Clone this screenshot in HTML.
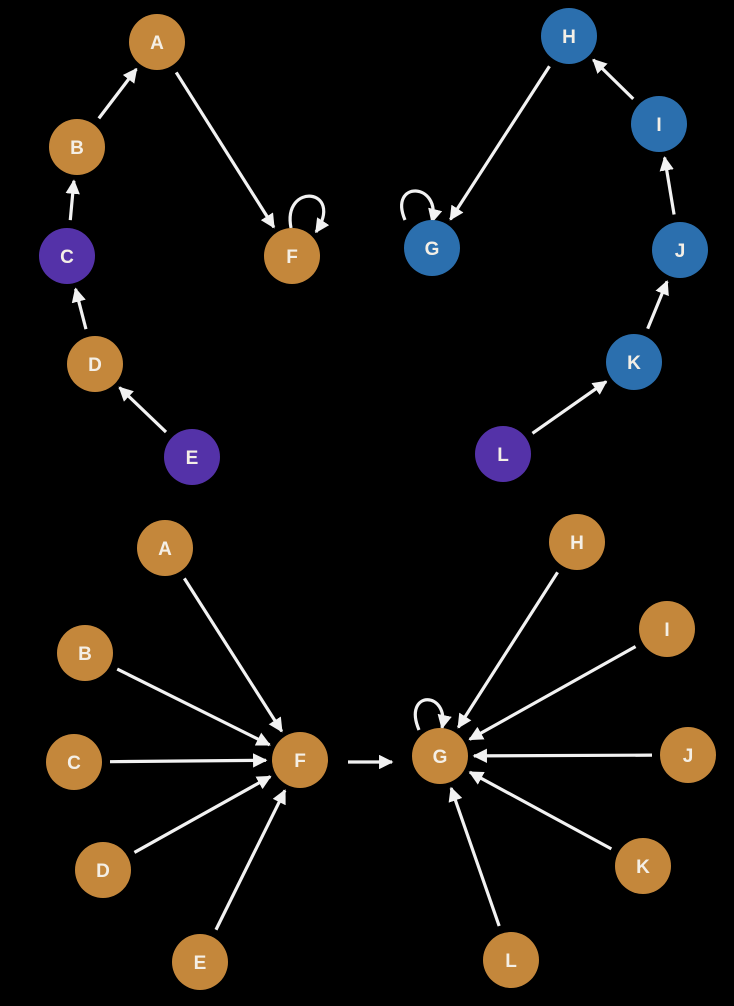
<!DOCTYPE html>
<html><head><style>
html,body{margin:0;padding:0;background:#000;width:734px;height:1006px;overflow:hidden}
svg text{font-family:"Liberation Sans",sans-serif;font-weight:bold;font-size:19px;fill:#f4efe6}
</style></head><body>
<svg id="s" width="734" height="1006" viewBox="0 0 734 1006" xmlns="http://www.w3.org/2000/svg">
<defs><marker id="ah" viewBox="0 0 10 10" refX="9" refY="5" markerWidth="4.5" markerHeight="4.5" orient="auto" markerUnits="strokeWidth"><path d="M0,0 L10,5 L0,10 Z" fill="#f2f2f2"/></marker></defs>
<g id="e" stroke="#f2f2f2" stroke-width="3.2" fill="none"></g>
<g id="n"></g>
</svg>
<script>
var O="#c4873b",P="#5432a8",B="#2b6fae";
var N={
a:[157,42,O,"A"],b:[77,147,O,"B"],c:[67,256,P,"C"],d:[95,364,O,"D"],e:[192,457,P,"E"],f:[292,256,O,"F"],
h:[569,36,B,"H"],i:[659,124,B,"I"],j:[680,250,B,"J"],k:[634,362,B,"K"],l:[503,454,P,"L"],g:[432,248,B,"G"],
A:[165,548,O,"A"],B:[85,653,O,"B"],C:[74,762,O,"C"],D:[103,870,O,"D"],E:[200,962,O,"E"],F:[300,760,O,"F"],
G:[440,756,O,"G"],H:[577,542,O,"H"],I:[667,629,O,"I"],J:[688,755,O,"J"],K:[643,866,O,"K"],L:[511,960,O,"L"]};
var E=[["b","a"],["c","b"],["d","c"],["e","d"],["a","f"],["h","g"],["i","h"],["j","i"],["k","j"],["l","k"],
["A","F"],["B","F"],["C","F"],["D","F"],["E","F"],["H","G"],["I","G"],["J","G"],["K","G"],["L","G"]];
var ns="http://www.w3.org/2000/svg",eg=document.getElementById("e"),ng=document.getElementById("n");
function ln(x1,y1,x2,y2){var l=document.createElementNS(ns,"line");l.setAttribute("x1",x1);l.setAttribute("y1",y1);l.setAttribute("x2",x2);l.setAttribute("y2",y2);l.setAttribute("marker-end","url(#ah)");eg.appendChild(l);}
E.forEach(function(p){var s=N[p[0]],t=N[p[1]],dx=t[0]-s[0],dy=t[1]-s[1],L=Math.hypot(dx,dy),ux=dx/L,uy=dy/L,r1=36,r2=34;
ln(s[0]+ux*r1,s[1]+uy*r1,t[0]-ux*r2,t[1]-uy*r2);});
ln(348,762,392,762);
function pth(d){var p=document.createElementNS(ns,"path");p.setAttribute("d",d);p.setAttribute("marker-end","url(#ah)");eg.appendChild(p);}
pth("M291,228 C282,182 345,188 316,232");
pth("M405,220 C388,180 442,182 432,222");
pth("M419,730 C402,690 450,690 442,728");
for(var k in N){var v=N[k];var c=document.createElementNS(ns,"circle");c.setAttribute("cx",v[0]);c.setAttribute("cy",v[1]);c.setAttribute("r",28);c.setAttribute("fill",v[2]);ng.appendChild(c);
var t=document.createElementNS(ns,"text");t.setAttribute("x",v[0]);t.setAttribute("y",v[1]+7);t.setAttribute("text-anchor","middle");t.textContent=v[3];ng.appendChild(t);}
</script>
</body></html>
